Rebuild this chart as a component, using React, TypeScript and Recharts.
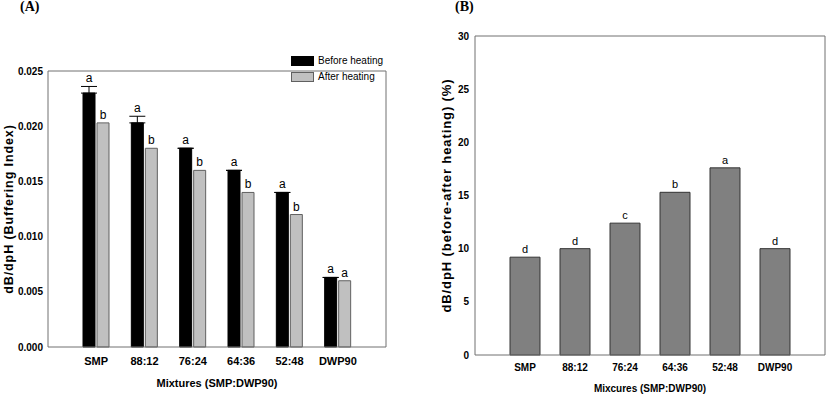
import React from 'react';
import { BarChart, Bar, XAxis, YAxis, ErrorBar, LabelList, Legend } from 'recharts';

const categories = ['SMP', '88:12', '76:24', '64:36', '52:48', 'DWP90'];
const beforeHeating = [0.0230, 0.0203, 0.0180, 0.0160, 0.0140, 0.0063];
const afterHeating = [0.0203, 0.0180, 0.0160, 0.0140, 0.0120, 0.0060];
const beforeError = [0.0006, 0.0006, 0, 0, 0, 0];
const beforeLetters = ['a', 'a', 'a', 'a', 'a', 'a'];
const afterLetters = ['b', 'b', 'b', 'b', 'b', 'a'];
const ticksA = [0, 0.005, 0.01, 0.015, 0.02, 0.025];

const differencePct = [9.2, 10.0, 12.4, 15.3, 17.6, 10.0];
const diffLetters = ['d', 'd', 'c', 'b', 'a', 'd'];
const ticksB = [0, 5, 10, 15, 20, 25, 30];

const dataA = categories.map((c, i) => ({
  name: c,
  before: beforeHeating[i],
  after: afterHeating[i],
  err: [0, beforeError[i]],
  lb: beforeLetters[i],
  la: afterLetters[i],
}));
const dataB = categories.map((c, i) => ({ name: c, diff: differencePct[i], l: diffLetters[i] }));

const FONT = '"Liberation Sans", Arial, sans-serif';
const AXIS = '#707070';
const A_PLOT_H = 307;
const A_MAX = 0.025;

const LegendA = () => (
  <div style={{ fontFamily: FONT, fontSize: 10, color: '#000', lineHeight: '15px' }}>
    <div style={{ display: 'flex', alignItems: 'center', height: 15 }}>
      <span style={{ display: 'inline-block', width: 21, height: 8, background: '#000', border: '1px solid #000', marginRight: 4 }} />
      <span>Before heating</span>
    </div>
    <div style={{ display: 'flex', alignItems: 'center', height: 15, marginTop: 1 }}>
      <span style={{ display: 'inline-block', width: 21, height: 8, background: '#c0c0c0', border: '1px solid #606060', marginRight: 4 }} />
      <span>After heating</span>
    </div>
  </div>
);

const letterBefore = (props: any) => {
  const { x, y, width, value, index } = props;
  const errPx = (beforeError[index] / A_MAX) * A_PLOT_H;
  return (
    <text x={x + width / 2} y={y - 4 - errPx} textAnchor="middle" fontFamily={FONT} fontSize={12} fill="#000">
      {value}
    </text>
  );
};

const App = () => {
  return (
    <div style={{ position: 'absolute', left: 0, top: 0, width: 827, height: 395, background: '#fff' }}>
      <div style={{ position: 'absolute', left: 20, top: -1, fontFamily: '"Liberation Serif", serif', fontWeight: 'bold', fontSize: 14 }}>(A)</div>
      <div style={{ position: 'absolute', left: 455, top: -1, fontFamily: '"Liberation Serif", serif', fontWeight: 'bold', fontSize: 14 }}>(B)</div>

      <div style={{ position: 'absolute', left: 0, top: 0 }}>
        <BarChart width={400} height={395} data={dataA} margin={{ top: 39, right: 13, bottom: 0, left: 0 }} barSize={12} barGap={2}>
          <XAxis
            dataKey="name"
            padding={{ left: 24, right: 24 }}
            height={48}
            axisLine={{ stroke: AXIS }}
            tickLine={false}
            tickSize={0}
            tickMargin={10}
            interval={0}
            tick={{ fontFamily: FONT, fontSize: 11, fontWeight: 'bold', fill: '#000' }}
            label={{
              content: (p: any) => {
                const vb = p.viewBox;
                return (
                  <text x={vb.x + vb.width / 2} y={vb.y + 40} textAnchor="middle" fontFamily={FONT} fontSize={11} fontWeight="bold" fill="#000">
                    Mixtures (SMP:DWP90)
                  </text>
                );
              },
            }}
          />
          <XAxis xAxisId="top" orientation="top" dataKey="name" height={1} tick={false} tickLine={false} axisLine={{ stroke: AXIS }} />
          <YAxis
            domain={[0, 0.025]}
            ticks={ticksA}
            width={48}
            axisLine={{ stroke: AXIS }}
            tickLine={false}
            tickSize={0}
            tickMargin={5}
            tickFormatter={(v: number) => v.toFixed(3)}
            tick={{ fontFamily: FONT, fontSize: 10, fontWeight: 'bold', fill: '#000' }}
            label={{
              content: (p: any) => {
                const vb = p.viewBox;
                const cy = vb.y + vb.height / 2;
                return (
                  <text x={13} y={cy} transform={`rotate(-90, 13, ${cy})`} textAnchor="middle" fontFamily={FONT} fontSize={12.5} fontWeight="bold" letterSpacing={0.9} fill="#000">
                    dB/dpH (Buffering Index)
                  </text>
                );
              },
            }}
          />
          <YAxis yAxisId="right" orientation="right" width={1} tick={false} tickLine={false} axisLine={{ stroke: AXIS }} domain={[0, 0.025]} />
          <Legend
            verticalAlign="top"
            align="left"
            wrapperStyle={{ position: 'absolute', left: 291, top: 53, width: 95 }}
            content={() => <LegendA />}
          />
          <Bar dataKey="before" fill="#000" stroke="#000" strokeWidth={1} isAnimationActive={false}>
            <ErrorBar dataKey="err" direction="y" width={8} stroke="#000" strokeWidth={1} />
            <LabelList dataKey="lb" content={letterBefore} />
          </Bar>
          <Bar dataKey="after" fill="#c0c0c0" stroke="#606060" strokeWidth={1} isAnimationActive={false}>
            <LabelList dataKey="la" position="top" offset={4} style={{ fontFamily: FONT, fontSize: 12, fill: '#000' }} />
          </Bar>
        </BarChart>
      </div>

      <div style={{ position: 'absolute', left: 415, top: 0 }}>
        <BarChart width={412} height={395} data={dataB} margin={{ top: 35, right: 1, bottom: 0, left: 0 }} barSize={30}>
          <XAxis
            dataKey="name"
            padding={{ left: 25, right: 25 }}
            height={40}
            axisLine={{ stroke: AXIS }}
            tickLine={false}
            tickSize={0}
            tickMargin={9}
            interval={0}
            tick={{ fontFamily: FONT, fontSize: 10, fontWeight: 'bold', fill: '#000' }}
            label={{
              content: (p: any) => {
                const vb = p.viewBox;
                return (
                  <text x={vb.x + vb.width / 2} y={vb.y + 37} textAnchor="middle" fontFamily={FONT} fontSize={10} fontWeight="bold" fill="#000">
                    Mixcures (SMP:DWP90)
                  </text>
                );
              },
            }}
          />
          <XAxis xAxisId="top" orientation="top" dataKey="name" height={1} tick={false} tickLine={false} axisLine={{ stroke: AXIS }} />
          <YAxis
            domain={[0, 30]}
            ticks={ticksB}
            width={60}
            axisLine={{ stroke: AXIS }}
            tickLine={false}
            tickSize={0}
            tickMargin={6}
            tick={{ fontFamily: FONT, fontSize: 10, fontWeight: 'bold', fill: '#000' }}
            label={{
              content: (p: any) => {
                const vb = p.viewBox;
                const cy = vb.y + vb.height / 2;
                return (
                  <text x={36} y={cy} transform={`rotate(-90, 36, ${cy})`} textAnchor="middle" fontFamily={FONT} fontSize={13} fontWeight="bold" letterSpacing={0.9} fill="#000">
                    dB/dpH (before-after heating) (%)
                  </text>
                );
              },
            }}
          />
          <YAxis yAxisId="right" orientation="right" width={1} tick={false} tickLine={false} axisLine={{ stroke: AXIS }} domain={[0, 30]} />
          <Bar dataKey="diff" fill="#808080" stroke="#333" strokeWidth={1} isAnimationActive={false}>
            <LabelList dataKey="l" position="top" offset={4} style={{ fontFamily: FONT, fontSize: 11, fill: '#000' }} />
          </Bar>
        </BarChart>
      </div>
    </div>
  );
};

export default App;
